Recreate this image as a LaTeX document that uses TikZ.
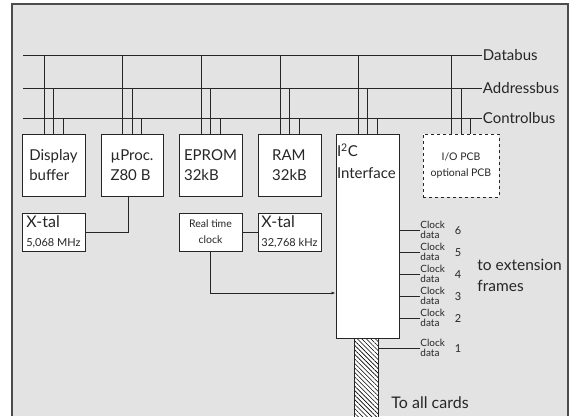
\documentclass[tikz,border=0pt]{standalone}
\usepackage{fontspec}
\setmainfont{Lato}
\usetikzlibrary{patterns.meta,arrows.meta}
\begin{document}
\begin{tikzpicture}[x=1pt,y=-1pt,line width=0.9pt,black!85,
    box/.style={draw,fill=white,align=left,inner sep=2pt,
      font=\fontsize{15}{20}\selectfont},
    buslbl/.style={anchor=west,inner sep=0.5pt,font=\fontsize{15}{15}\selectfont},
    small/.style={align=center,font=\fontsize{10.5}{16}\selectfont},
    clk/.style={anchor=west,align=left,inner sep=0pt,font=\fontsize{10}{9.6}\selectfont},
    num/.style={anchor=west,inner sep=0pt,font=\fontsize{11}{11}\selectfont}]
  \useasboundingbox (0,0) rectangle (574,416);
  \fill[black!11] (12,4) rectangle (568,416);
  \draw[line width=1.4pt,black!70] (12,416) -- (12,4) -- (568,4) -- (568,416);

  \coordinate (d0) at (23,55);
  \coordinate (a0) at (23,88);
  \coordinate (c0) at (23,118);
  \node[buslbl] (dbus) at (482,55) {Databus};
  \node[buslbl] (abus) at (482,88) {Addressbus};
  \node[buslbl] (cbus) at (482,118) {Controlbus};
  \draw (d0) -- (dbus.west);
  \draw (a0) -- (abus.west);
  \draw (c0) -- (cbus.west);

  \node[box,minimum width=63,minimum height=62] (disp) at (53.5,165) {Display\\buffer};
  \node[box,minimum width=62,minimum height=62] (proc) at (132,165) {µProc.\\Z80 B};
  \node[box,minimum width=63,minimum height=62] (eprom) at (210.5,165) {EPROM\\32kB};
  \node[box,minimum width=63,minimum height=62] (ram) at (289.5,165) {RAM\\32kB};
  \node[box,minimum width=63,minimum height=204] (iic) at (367.5,236) {};
  \node[anchor=north west,align=left,inner sep=1pt,font=\fontsize{15}{22}\selectfont]
    (iictxt) at ([yshift=-9pt]iic.north west) {I\textsuperscript{2}C\\Interface};
  \node[draw,dashed,fill=white,minimum width=76,minimum height=63,small] (io)
    at (461,165.5) {I/O PCB\\optional PCB};

  \foreach \b in {disp,proc,eprom,ram,iic,io}{
    \draw ([xshift=-9.5pt]\b.north) -- ([xshift=-9.5pt]\b.north |- d0);
    \draw (\b.north) -- (\b.north |- a0);
    \draw ([xshift=9.5pt]\b.north) -- ([xshift=9.5pt]\b.north |- c0);
  }

  \node[box,minimum width=63,minimum height=38,font=\fontsize{16}{19}\selectfont] (xtal1)
    at (53.5,232) {X-tal\\{\fontsize{11}{11}\selectfont 5,068 MHz}};
  \node[box,small,minimum width=63,minimum height=38] (rtc) at (210.5,232) {Real time\\clock};
  \node[box,minimum width=63,minimum height=38,inner sep=0.5pt,font=\fontsize{16}{19}\selectfont] (xtal2)
    at (289.5,232) {X-tal\\{\fontsize{11}{11}\selectfont 32,768 kHz}};
  \draw ([xshift=-4pt]proc.south) |- (xtal1.east);
  \draw (rtc.east) -- (xtal2.west);
  \draw[-{Latex[length=4pt,width=3pt]}] (rtc.south) |- ([yshift=-57pt]iic.west);

  \node[draw,preaction={fill=white},pattern={Lines[angle=-45,distance=3.2pt,line width=0.6pt]},
    minimum width=24,minimum height=82,inner sep=0pt,anchor=north] (cable) at (366,338) {};

  \foreach \n/\y in {6/230,5/252,4/274,3/296,2/318}{
    \node[clk] (c\n) at (420,\y) {Clock\\data};
    \node[num] (n\n) at ([xshift=9pt,yshift=-1pt]c\n.east) {\n};
    \draw (c\n.west -| iic.east) -- (c\n.west);
  }
  \node[clk] (c1) at (420,348) {Clock\\data};
  \node[num] (n1) at ([xshift=9pt,yshift=-1pt]c1.east) {1};
  \draw (c1.west -| cable.east) -- (c1.west);

  \node[anchor=west,align=left,inner sep=0pt,font=\fontsize{15.5}{21}\selectfont] (ext)
    at (477,275.5) {to extension\\frames};
  \node[anchor=west,inner sep=0pt,font=\fontsize{16}{16}\selectfont] (cards) at (391,403) {To all cards};
\end{tikzpicture}
\end{document}
